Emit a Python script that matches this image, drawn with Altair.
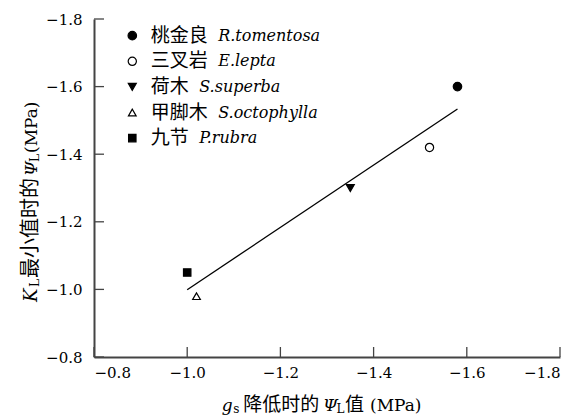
import altair as alt
import pandas as pd

# ---- data ----
species_cn = ["桃金良", "三叉岩", "荷木", "甲脚木", "九节"]
species_la = ["R.tomentosa", "E.lepta", "S.superba", "S.octophylla", "P.rubra"]
x_vals = [-1.58, -1.52, -1.35, -1.02, -1.00]   # gs 降低时的 ΨL
y_vals = [-1.60, -1.42, -1.30, -0.98, -1.05]   # KL 最小值时的 ΨL
tick_vals = [-0.8, -1.0, -1.2, -1.4, -1.6, -1.8]

df = pd.DataFrame({"sp": species_cn, "la": species_la, "x": x_vals, "y": y_vals,
                   "idx": list(range(len(species_cn)))})
ticks_df = pd.DataFrame({"t": tick_vals})

W, H = 466, 338
LAT = "DejaVu Serif"
CJK = "Noto Sans CJK SC"
LBL = "'\u2212' + format(abs(datum.value), '.1f')"

xscale = alt.Scale(domain=[-1.8, -0.8], reverse=True, nice=False, zero=False)
yscale = alt.Scale(domain=[-1.8, -0.8], reverse=True, nice=False, zero=False)

shape_sc = alt.Scale(domain=species_cn, range=["circle", "circle", "triangle-down", "triangle-up", "square"])
fill_sc = alt.Scale(domain=species_cn, range=["black", "white", "black", "white", "black"])
size_sc = alt.Scale(domain=species_cn, range=[72, 55, 80, 66, 52])

base = alt.Chart(df)

axis_common = dict(values=tick_vals, labelExpr=LBL, title=None, ticks=False, grid=False,
                   labelFont=LAT, labelFontSize=15, labelColor="black",
                   domainColor="#444", domainWidth=2)

points = base.mark_point(filled=True, stroke="black", strokeWidth=1.2, opacity=1).encode(
    x=alt.X("x:Q", scale=xscale, axis=alt.Axis(labelPadding=8, **axis_common)),
    y=alt.Y("y:Q", scale=yscale, axis=alt.Axis(labelPadding=12, **axis_common)),
    shape=alt.Shape("sp:N", scale=shape_sc, legend=None),
    fill=alt.Fill("sp:N", scale=fill_sc, legend=None),
    size=alt.Size("sp:N", scale=size_sc, legend=None),
)

fit = base.transform_regression("x", "y").mark_line(color="black", strokeWidth=1.3).encode(
    x=alt.X("x:Q", scale=xscale), y=alt.Y("y:Q", scale=yscale)
)

# inward tick marks
xticks = alt.Chart(ticks_df).mark_rule(color="#444", strokeWidth=1.3).encode(
    x=alt.X("t:Q", scale=xscale), y=alt.value(H), y2=alt.value(H - 10)
)
yticks = alt.Chart(ticks_df).mark_rule(color="#444", strokeWidth=1.3).encode(
    y=alt.Y("t:Q", scale=yscale), x=alt.value(0), x2=alt.value(10)
)

# in-plot legend
leg = base.transform_calculate(
    py="16.7 + datum.idx * 25.6",
    lx="56.7 + length(datum.sp) * 19 + 10.5",
)
leg_sym = leg.mark_point(filled=True, stroke="black", strokeWidth=1.2, opacity=1).encode(
    x=alt.value(38.3),
    y=alt.Y("py:Q", scale=None),
    shape=alt.Shape("sp:N", scale=shape_sc, legend=None),
    fill=alt.Fill("sp:N", scale=fill_sc, legend=None),
    size=alt.Size("sp:N", scale=size_sc, legend=None),
)
leg_cn = leg.mark_text(font=CJK, fontSize=19, align="left", baseline="middle", color="black").encode(
    x=alt.value(56.7), y=alt.Y("py:Q", scale=None), text="sp:N"
)
leg_la = leg.mark_text(font=LAT, fontSize=16, fontStyle="italic", align="left",
                       baseline="middle", color="black").encode(
    x=alt.X("lx:Q", scale=None), y=alt.Y("py:Q", scale=None), text="la:N"
)


def piece(text, x, y, font, size, style="normal", angle=0):
    kw = dict(font=font, fontSize=size, fontStyle=style, align="left",
              baseline="alphabetic", color="black")
    if angle:
        kw["angle"] = angle
    return alt.Chart(alt.InlineData(values=[{"a": 1}])).mark_text(**kw).encode(
        x=alt.value(x), y=alt.value(y), text=alt.value(text)
    )


# x-axis title: g_s 降低时的 Ψ_L 值 (MPa)
xb = 392
xtitle = [
    piece("g", 127.7, xb, LAT, 17, "italic"),
    piece("s", 139.3, xb + 2, LAT, 12),
    piece("降低时的", 149.3, xb, CJK, 19),
    piece("Ψ", 229, xb, LAT, 17, "italic"),
    piece("L", 242.5, xb + 2, LAT, 12),
    piece("值", 251, xb, CJK, 19),
    piece("(MPa)", 276, xb, LAT, 17),
]

# y-axis title (rotated): K_L 最小值时的 Ψ_L (MPa)
yb = -57
ytitle = [
    piece("K", yb, 283, LAT, 18, "italic", 270),
    piece("L", yb + 2, 268, LAT, 12, "normal", 270),
    piece("最小值时的", yb, 259, CJK, 20, "normal", 270),
    piece("Ψ", yb, 157, LAT, 17, "italic", 270),
    piece("L", yb + 2, 143, LAT, 12, "normal", 270),
    piece("(MPa)", yb, 134, LAT, 17, "normal", 270),
]

chart = alt.layer(
    fit, points, xticks, yticks, leg_sym, leg_cn, leg_la, *xtitle, *ytitle
).properties(
    width=W, height=H,
    autosize=alt.AutoSizeParams(type="none"),
    padding={"left": 86, "top": 11, "right": 19, "bottom": 62},
).configure_view(stroke=None)

chart.save("out.html", embed_options={"renderer": "svg", "actions": False})
